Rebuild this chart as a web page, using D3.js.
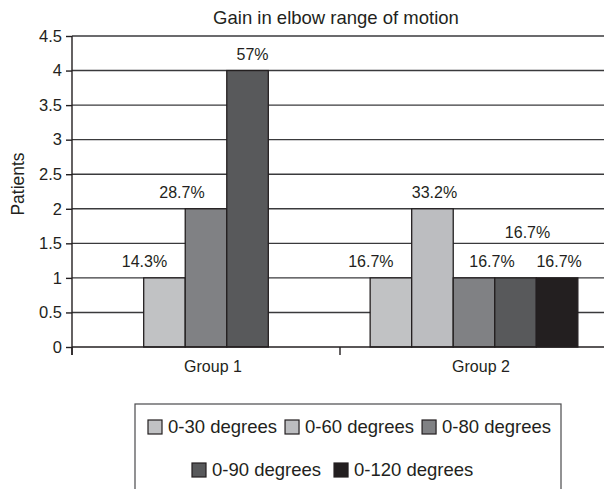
<!DOCTYPE html>
<html>
<head>
<meta charset="utf-8">
<script src="https://cdn.jsdelivr.net/npm/d3@7"></script>
<style>
  html, body { margin: 0; padding: 0; background: #fff; }
  svg { display: block; font-family: "Liberation Sans", Arial, Helvetica, sans-serif; }
</style>
</head>
<body>
<div id="chart"></div>
<script>
// ---- data ----
const title = "Gain in elbow range of motion";
const yLabel = "Patients";
const categories = ["Group 1", "Group 2"];
const seriesNames = ["0-30 degrees", "0-60 degrees", "0-80 degrees", "0-90 degrees", "0-120 degrees"];
const values030  = [1, 1];
const values060  = [0, 2];
const values080  = [2, 1];
const values090  = [4, 1];
const values0120 = [0, 1];
const labels030  = ["14.3%", "16.7%"];
const labels060  = [null, "33.2%"];
const labels080  = ["28.7%", "16.7%"];
const labels090  = ["57%", "16.7%"];
const labels0120 = [null, "16.7%"];
const yTicks = [0, 0.5, 1, 1.5, 2, 2.5, 3, 3.5, 4, 4.5];

// ---- styling / layout ----
const colors = ["#c1c2c4", "#bcbdc0", "#808184", "#58595b", "#231f20"];
const ink = "#231f20";
// manual label nudges as in the original figure, [group][bar order] -> [dx, dy]
const labelNudge = [
  [[-20, 0], [-24, 0], [5, 0]],
  [[-20, 0], [2, 0], [18, 0], [12, -29], [2, 0]]
];

const W = 604, H = 489;
const mLeft = 72, mRight = 608, mTop = 36, mBottom = 347;

const allValues = [values030, values060, values080, values090, values0120];
const allLabels = [labels030, labels060, labels080, labels090, labels0120];

const svg = d3.select("#chart").append("svg").attr("width", W).attr("height", H);

const x0 = d3.scaleBand().domain(categories).range([mLeft, mRight]).padding(0);
const y = d3.scaleLinear().domain([0, 4.5]).range([mBottom, mTop]);
const barW = x0.bandwidth() * 0.155;

// gridlines
svg.append("g").selectAll("line").data(yTicks.filter(d => d > 0)).join("line")
  .attr("x1", mLeft).attr("x2", W)
  .attr("y1", d => y(d)).attr("y2", d => y(d))
  .attr("stroke", "#3a3a3c").attr("stroke-width", 1.4);

// bars
categories.forEach((cat, gi) => {
  const present = seriesNames.map((s, si) => si).filter(si => allValues[si][gi] > 0);
  const center = x0(cat) + x0.bandwidth() / 2;
  const x1 = d3.scaleBand().domain(present).range([center - present.length * barW / 2, center + present.length * barW / 2]);
  const g = svg.append("g");
  g.selectAll("rect").data(present).join("rect")
    .attr("x", si => x1(si))
    .attr("y", si => y(allValues[si][gi]))
    .attr("width", x1.bandwidth())
    .attr("height", si => y(0) - y(allValues[si][gi]))
    .attr("fill", si => colors[si])
    .attr("stroke", ink).attr("stroke-width", 1.3);
  g.selectAll("text").data(present).join("text")
    .attr("x", (si, k) => x1(si) + x1.bandwidth() / 2 + labelNudge[gi][k][0])
    .attr("y", (si, k) => y(allValues[si][gi]) - 11 + labelNudge[gi][k][1])
    .attr("text-anchor", "middle")
    .attr("font-size", 16)
    .attr("fill", ink)
    .text(si => allLabels[si][gi]);
});

// y axis
const yAxis = svg.append("g").attr("transform", `translate(${mLeft},0)`)
  .call(d3.axisLeft(y).tickValues(yTicks).tickFormat(d => String(d)).tickSize(6).tickPadding(4));
yAxis.select(".domain").attr("stroke", ink).attr("stroke-width", 1.4).attr("d", `M0,${mTop}V${mBottom + 8}`);
yAxis.selectAll(".tick line").attr("stroke", ink).attr("stroke-width", 1.4);
yAxis.selectAll(".tick text").attr("font-size", 16.5).attr("fill", ink).attr("font-family", null);

// x axis
const xAxis = svg.append("g").attr("transform", `translate(0,${mBottom})`)
  .call(d3.axisBottom(x0).tickSize(0).tickPadding(14));
xAxis.select(".domain").attr("stroke", ink).attr("stroke-width", 1.4).attr("d", `M${mLeft},0H${W}`);
xAxis.selectAll(".tick text").attr("font-size", 16).attr("fill", ink).attr("font-family", null).attr("dx", 7);
// category boundary ticks
svg.append("g").selectAll("line").data(categories.map(c => x0(c)).concat([x0.range()[1]])).join("line")
  .attr("x1", d => d).attr("x2", d => d).attr("y1", mBottom).attr("y2", mBottom + 8)
  .attr("stroke", ink).attr("stroke-width", 1.4);

// title
svg.append("text").attr("x", 336).attr("y", 24).attr("text-anchor", "middle")
  .attr("font-size", 18.5).attr("fill", ink).text(title);

// y label
svg.append("text").attr("transform", "translate(24,184) rotate(-90)").attr("text-anchor", "middle")
  .attr("font-size", 17.5).attr("fill", ink).text(yLabel);

// legend
const legend = svg.append("g");
legend.append("rect").attr("x", 135).attr("y", 404).attr("width", 426).attr("height", 100)
  .attr("fill", "none").attr("stroke", "#4a4a4c").attr("stroke-width", 1.2);
const rows = [[0, 1, 2], [3, 4]];
const rowY = [433, 476];
const rowStart = [148, 192];
rows.forEach((row, ri) => {
  let xc = rowStart[ri];
  row.forEach(si => {
    const it = legend.append("g").attr("transform", `translate(${xc},${rowY[ri]})`);
    it.append("rect").attr("x", 0).attr("y", -13).attr("width", 14).attr("height", 14)
      .attr("fill", colors[si]).attr("stroke", ink).attr("stroke-width", 1.2);
    const t = it.append("text").attr("x", 20).attr("y", 0).attr("font-size", 18.5).attr("fill", ink).text(seriesNames[si]);
    xc += 20 + t.node().getComputedTextLength() + (ri === 0 ? 8 : 13);
  });
});
</script>
</body>
</html>
